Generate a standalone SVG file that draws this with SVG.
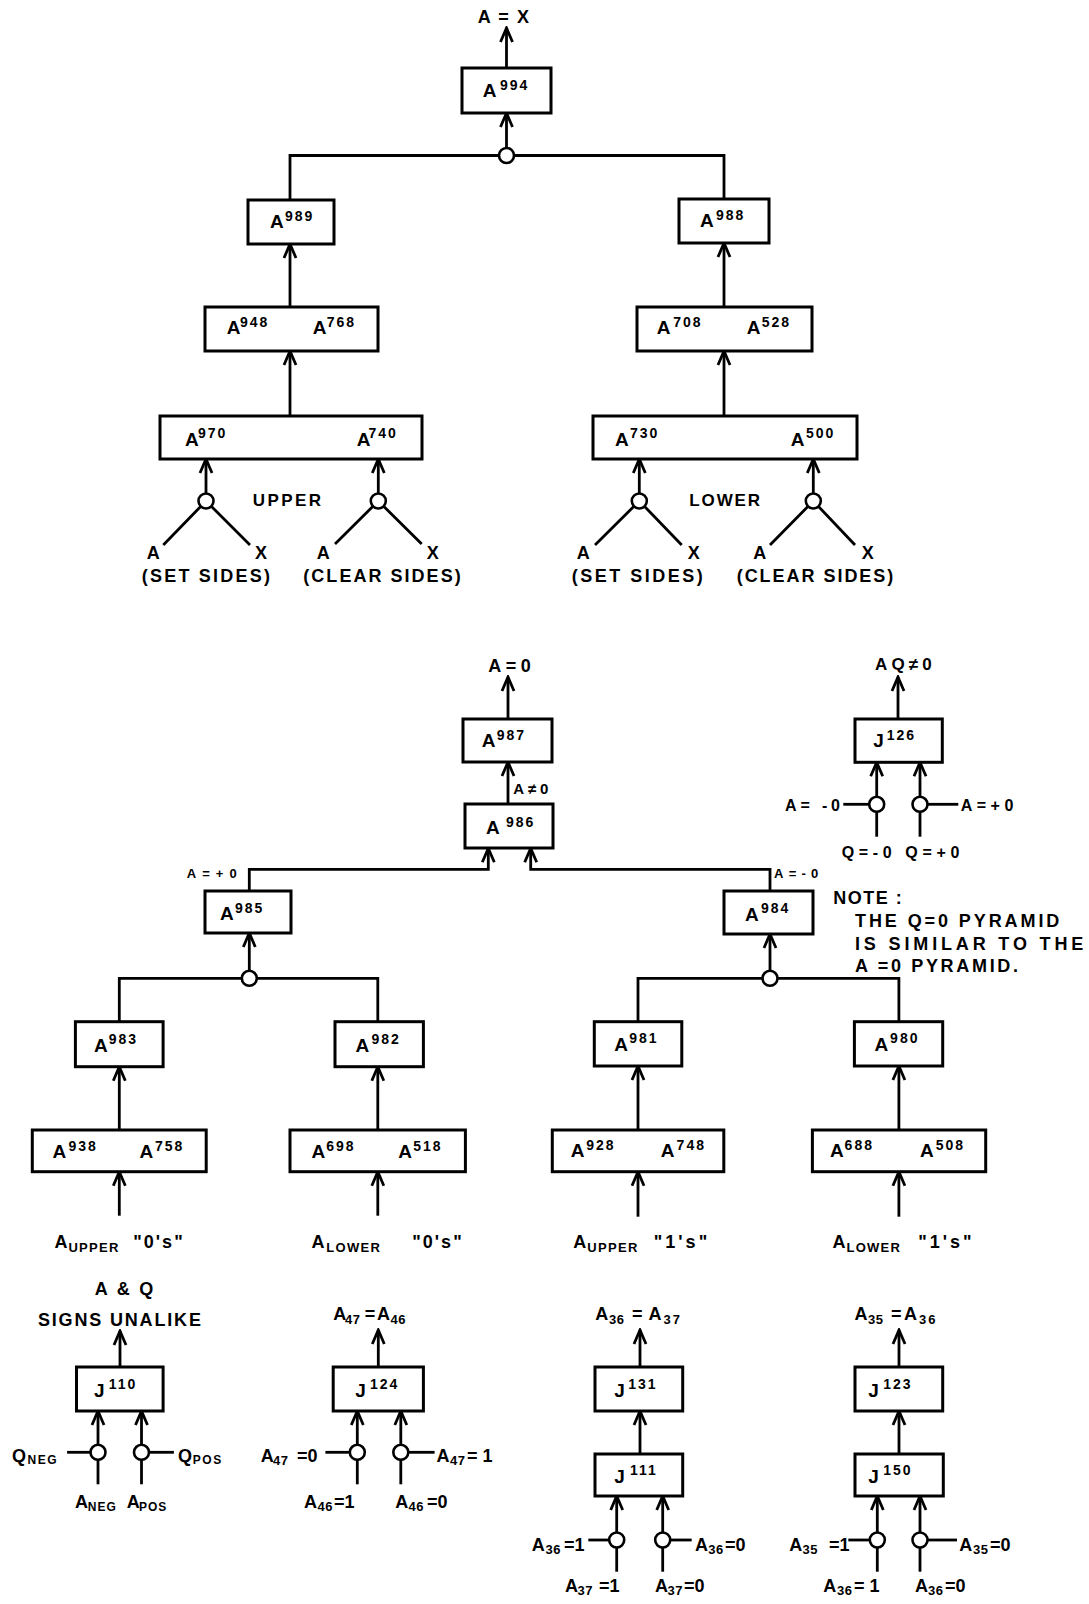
<svg xmlns="http://www.w3.org/2000/svg" width="1089" height="1604" viewBox="0 0 1089 1604">
<style>
.bx{fill:#fff;stroke:#000;stroke-width:3}
.ln{fill:none;stroke:#000;stroke-width:2.8}
.ar{fill:none;stroke:#000;stroke-width:2.8;marker-end:url(#ah)}
.jn{fill:#fff;stroke:#000;stroke-width:2.6}
text{font-family:'Liberation Sans',Arial,sans-serif;font-weight:bold;fill:#000}
.t{font-size:18px}
.bl{font-size:19px}
.sp{font-size:14px;letter-spacing:2px}
.sb{font-size:13px;letter-spacing:0.5px}
.sm{font-size:13px}
.md{font-size:16px}
</style>
<defs>
<marker id="ah" viewBox="-16 -8 18 16" markerWidth="18" markerHeight="16" refX="0" refY="0" orient="auto" markerUnits="userSpaceOnUse">
<path d="M-14,-6 L0,0 L-14,6" fill="none" stroke="#000" stroke-width="2.8"/>
</marker>
</defs>
<rect width="1089" height="1604" fill="#fff"/>

<g id="connectors">
<line class="ar" x1="506.5" y1="68" x2="506.5" y2="28"/>
<line class="ar" x1="506.5" y1="148" x2="506.5" y2="113"/>
<path class="ln" d="M290,200 V155.5 H724 V199"/>
<line class="ar" x1="290" y1="307" x2="290" y2="244"/>
<line class="ar" x1="724" y1="307" x2="724" y2="243"/>
<line class="ar" x1="290" y1="416" x2="290" y2="351"/>
<line class="ar" x1="724" y1="416" x2="724" y2="351"/>
<line class="ar" x1="206" y1="493.5" x2="206" y2="459"/>
<line class="ar" x1="378.3" y1="493.5" x2="378.3" y2="459"/>
<line class="ar" x1="639.3" y1="493.5" x2="639.3" y2="459"/>
<line class="ar" x1="813.3" y1="493.5" x2="813.3" y2="459"/>
<path class="ln" d="M163.3,545 L206,501 L250,545"/>
<path class="ln" d="M335,544 L378.3,501 L421.7,544"/>
<path class="ln" d="M595,545 L639.3,501 L681.7,545"/>
<path class="ln" d="M770,545 L813.3,501 L855,545"/>
<circle class="jn" cx="506.5" cy="155.5" r="7.5"/>
<circle class="jn" cx="206" cy="501" r="7.5"/>
<circle class="jn" cx="378.3" cy="501" r="7.5"/>
<circle class="jn" cx="639.3" cy="501" r="7.5"/>
<circle class="jn" cx="813.3" cy="501" r="7.5"/>

<line class="ar" x1="508" y1="719" x2="508" y2="677"/>
<line class="ar" x1="508" y1="804" x2="508" y2="762"/>
<path class="ar" d="M249.3,891 V869.3 H488.3 V848.3"/>
<path class="ar" d="M770,891 V869.3 H530.7 V848.3"/>
<line class="ar" x1="249.3" y1="970.8" x2="249.3" y2="933"/>
<line class="ar" x1="770" y1="970.8" x2="770" y2="934"/>
<path class="ln" d="M119.3,1021.7 V978.3 H377.8 V1021.7"/>
<path class="ln" d="M638,1021.7 V978.3 H898.9 V1021.7"/>
<circle class="jn" cx="249.3" cy="978.3" r="7.5"/>
<circle class="jn" cx="770" cy="978.3" r="7.5"/>
<line class="ar" x1="119.3" y1="1130" x2="119.3" y2="1066.7"/>
<line class="ar" x1="377.8" y1="1130" x2="377.8" y2="1066.7"/>
<line class="ar" x1="638" y1="1130" x2="638" y2="1066"/>
<line class="ar" x1="898.9" y1="1130" x2="898.9" y2="1066"/>
<line class="ar" x1="119.3" y1="1215.7" x2="119.3" y2="1171.7"/>
<line class="ar" x1="377.8" y1="1215.7" x2="377.8" y2="1171.7"/>
<line class="ar" x1="638" y1="1216.7" x2="638" y2="1171.7"/>
<line class="ar" x1="898.9" y1="1216.7" x2="898.9" y2="1171.7"/>

<line class="ar" x1="898" y1="719" x2="898" y2="677"/>
<line class="ar" x1="876.7" y1="796.8" x2="876.7" y2="762.3"/>
<line class="ar" x1="920" y1="796.8" x2="920" y2="762.3"/>
<line class="ln" x1="876.7" y1="804" x2="876.7" y2="836.7"/>
<line class="ln" x1="920" y1="804" x2="920" y2="836.7"/>
<line class="ln" x1="843.3" y1="804.3" x2="870" y2="804.3"/>
<line class="ln" x1="927" y1="804.3" x2="958.3" y2="804.3"/>
<circle class="jn" cx="876.7" cy="804.3" r="7.5"/>
<circle class="jn" cx="920" cy="804.3" r="7.5"/>

<line class="ar" x1="120" y1="1367" x2="120" y2="1331"/>
<line class="ar" x1="98" y1="1444.8" x2="98" y2="1411"/>
<line class="ar" x1="141.5" y1="1444.8" x2="141.5" y2="1411"/>
<line class="ln" x1="98" y1="1452" x2="98" y2="1484.3"/>
<line class="ln" x1="141.5" y1="1452" x2="141.5" y2="1484.3"/>
<line class="ln" x1="67.1" y1="1452.3" x2="91" y2="1452.3"/>
<line class="ln" x1="148.5" y1="1452.3" x2="173.9" y2="1452.3"/>
<circle class="jn" cx="98" cy="1452.3" r="7.5"/>
<circle class="jn" cx="141.5" cy="1452.3" r="7.5"/>

<line class="ar" x1="378.3" y1="1367" x2="378.3" y2="1330"/>
<line class="ar" x1="357.3" y1="1444.8" x2="357.3" y2="1411"/>
<line class="ar" x1="400.8" y1="1444.8" x2="400.8" y2="1411"/>
<line class="ln" x1="357.3" y1="1452" x2="357.3" y2="1484.3"/>
<line class="ln" x1="400.8" y1="1452" x2="400.8" y2="1484.3"/>
<line class="ln" x1="325.4" y1="1452.3" x2="350" y2="1452.3"/>
<line class="ln" x1="408" y1="1452.3" x2="434.6" y2="1452.3"/>
<circle class="jn" cx="357.3" cy="1452.3" r="7.5"/>
<circle class="jn" cx="400.8" cy="1452.3" r="7.5"/>

<line class="ar" x1="640" y1="1367" x2="640" y2="1330"/>
<line class="ar" x1="640" y1="1454" x2="640" y2="1411"/>
<line class="ar" x1="616.7" y1="1532.5" x2="616.7" y2="1496"/>
<line class="ar" x1="662.7" y1="1532.5" x2="662.7" y2="1496"/>
<line class="ln" x1="616.7" y1="1540" x2="616.7" y2="1571.7"/>
<line class="ln" x1="662.7" y1="1540" x2="662.7" y2="1571.7"/>
<line class="ln" x1="588.3" y1="1540" x2="609.5" y2="1540"/>
<line class="ln" x1="670" y1="1540" x2="691.7" y2="1540"/>
<circle class="jn" cx="616.7" cy="1540" r="7.5"/>
<circle class="jn" cx="662.7" cy="1540" r="7.5"/>

<line class="ar" x1="899" y1="1367" x2="899" y2="1330"/>
<line class="ar" x1="899" y1="1454" x2="899" y2="1411"/>
<line class="ar" x1="877.3" y1="1532.5" x2="877.3" y2="1496"/>
<line class="ar" x1="920" y1="1532.5" x2="920" y2="1496"/>
<line class="ln" x1="877.3" y1="1540" x2="877.3" y2="1571.7"/>
<line class="ln" x1="920" y1="1540" x2="920" y2="1571.7"/>
<line class="ln" x1="848.3" y1="1540" x2="870" y2="1540"/>
<line class="ln" x1="927" y1="1540" x2="957" y2="1540"/>
<circle class="jn" cx="877.3" cy="1540" r="7.5"/>
<circle class="jn" cx="920" cy="1540" r="7.5"/>
</g>

<g id="A994"><rect class="bx" x="462" y="68" width="89" height="45"/><text class="bl" x="482.7" y="97.3">A<tspan class="sp" x="500" dy="-7.5">994</tspan></text></g>
<g id="A989"><rect class="bx" x="248" y="200" width="86" height="44"/><text class="bl" x="270" y="228">A<tspan class="sp" x="285" dy="-7.5">989</tspan></text></g>
<g id="A988"><rect class="bx" x="679" y="199" width="90" height="44"/><text class="bl" x="700" y="227">A<tspan class="sp" x="716" dy="-7.5">988</tspan></text></g>
<g id="A948-A768"><rect class="bx" x="205" y="307" width="173" height="44"/>
<text class="bl" x="226.7" y="334">A<tspan class="sp" x="240" dy="-7.5">948</tspan></text>
<text class="bl" x="312.7" y="334">A<tspan class="sp" x="326.7" dy="-7.5">768</tspan></text></g>
<g id="A708-A528"><rect class="bx" x="637" y="307" width="175" height="44"/>
<text class="bl" x="656.7" y="334">A<tspan class="sp" x="673.3" dy="-7.5">708</tspan></text>
<text class="bl" x="746.7" y="334">A<tspan class="sp" x="761.7" dy="-7.5">528</tspan></text></g>
<g id="A970-A740"><rect class="bx" x="160" y="416" width="262" height="43"/>
<text class="bl" x="185" y="445.5">A<tspan class="sp" x="198" dy="-7.5">970</tspan></text>
<text class="bl" x="356.7" y="445.5">A<tspan class="sp" x="368.5" dy="-7.5">740</tspan></text></g>
<g id="A730-A500"><rect class="bx" x="593" y="416" width="264" height="43"/>
<text class="bl" x="615" y="445.5">A<tspan class="sp" x="630" dy="-7.5">730</tspan></text>
<text class="bl" x="790.7" y="445.5">A<tspan class="sp" x="806" dy="-7.5">500</tspan></text></g>

<g id="top-labels">
<text class="t" x="477.7" y="23.3" textLength="51.3" lengthAdjust="spacing">A = X</text>
<text class="t" x="252.7" y="505.7" textLength="68.3" lengthAdjust="spacing" style="font-size:17px">UPPER</text>
<text class="t" x="689.3" y="505.7" textLength="70.7" lengthAdjust="spacing" style="font-size:17px">LOWER</text>
<text class="t" x="146.7" y="559">A</text><text class="t" x="255" y="559">X</text>
<text class="t" x="141.7" y="581.7" textLength="128.3" lengthAdjust="spacing">(SET SIDES)</text>
<text class="t" x="316.7" y="559">A</text><text class="t" x="426.7" y="559">X</text>
<text class="t" x="303.3" y="581.7" textLength="157.4" lengthAdjust="spacing">(CLEAR SIDES)</text>
<text class="t" x="576.7" y="559">A</text><text class="t" x="687.7" y="559">X</text>
<text class="t" x="571.7" y="581.7" textLength="131" lengthAdjust="spacing">(SET SIDES)</text>
<text class="t" x="753.3" y="559">A</text><text class="t" x="861.7" y="559">X</text>
<text class="t" x="736.7" y="581.7" textLength="156.6" lengthAdjust="spacing">(CLEAR SIDES)</text>
</g>

<g id="A987"><rect class="bx" x="463" y="719" width="89" height="43"/><text class="bl" x="481.7" y="747.3">A<tspan class="sp" x="496.7" dy="-7.5">987</tspan></text></g>
<g id="A986"><rect class="bx" x="465" y="804" width="88" height="44"/><text class="bl" x="486" y="834">A<tspan class="sp" x="506" dy="-7.5">986</tspan></text></g>
<g id="A985"><rect class="bx" x="205" y="891" width="86" height="42"/><text class="bl" x="220" y="920">A<tspan class="sp" x="235" dy="-7.5">985</tspan></text></g>
<g id="A984"><rect class="bx" x="724" y="891" width="89" height="43"/><text class="bl" x="745" y="920.7">A<tspan class="sp" x="761" dy="-7.5">984</tspan></text></g>
<g id="A983"><rect class="bx" x="75.4" y="1021.7" width="87.7" height="45"/><text class="bl" x="94" y="1051.7">A<tspan class="sp" x="108.8" dy="-7.5">983</tspan></text></g>
<g id="A982"><rect class="bx" x="335" y="1021.7" width="88.4" height="45"/><text class="bl" x="355.4" y="1051.7">A<tspan class="sp" x="371.5" dy="-7.5">982</tspan></text></g>
<g id="A981"><rect class="bx" x="594.3" y="1021.7" width="87.5" height="44.3"/><text class="bl" x="614.2" y="1050.7">A<tspan class="sp" x="629.3" dy="-7.5">981</tspan></text></g>
<g id="A980"><rect class="bx" x="854.4" y="1021.7" width="88.3" height="44.3"/><text class="bl" x="874.4" y="1050.7">A<tspan class="sp" x="890.1" dy="-7.5">980</tspan></text></g>
<g id="A938-A758"><rect class="bx" x="32.3" y="1130" width="173.9" height="41.7"/>
<text class="bl" x="52.6" y="1158.3">A<tspan class="sp" x="68.4" dy="-7.5">938</tspan></text>
<text class="bl" x="139.6" y="1158.3">A<tspan class="sp" x="155" dy="-7.5">758</tspan></text></g>
<g id="A698-A518"><rect class="bx" x="290" y="1130" width="175.4" height="41.7"/>
<text class="bl" x="311.6" y="1158.3">A<tspan class="sp" x="326.3" dy="-7.5">698</tspan></text>
<text class="bl" x="398.2" y="1158.3">A<tspan class="sp" x="413.3" dy="-7.5">518</tspan></text></g>
<g id="A928-A748"><rect class="bx" x="552.3" y="1130" width="171.5" height="41.7"/>
<text class="bl" x="570.8" y="1157.3">A<tspan class="sp" x="586.2" dy="-7.5">928</tspan></text>
<text class="bl" x="660.8" y="1157.3">A<tspan class="sp" x="676.6" dy="-7.5">748</tspan></text></g>
<g id="A688-A508"><rect class="bx" x="812.4" y="1130" width="173.3" height="41.7"/>
<text class="bl" x="829.9" y="1157.3">A<tspan class="sp" x="844.6" dy="-7.5">688</tspan></text>
<text class="bl" x="919.9" y="1157.3">A<tspan class="sp" x="935.7" dy="-7.5">508</tspan></text></g>

<g id="zero-labels">
<text class="t" x="488.3" y="671.7" textLength="42.4" lengthAdjust="spacing">A=0</text>
<text class="t" x="513.3" y="794" textLength="35" lengthAdjust="spacing" style="font-size:15px">A≠0</text>
<text class="sm" x="186.7" y="878.3" textLength="50" lengthAdjust="spacing">A=+0</text>
<text class="sm" x="774" y="877.7" textLength="44.3" lengthAdjust="spacing">A=-0</text>
<text class="t"><tspan x="54.4" y="1248.3">A</tspan><tspan class="sb" x="68.4" y="1252" style="letter-spacing:1.3px">UPPER</tspan><tspan x="133.3" y="1248.3" style="letter-spacing:2px">"0's"</tspan></text>
<text class="t"><tspan x="311.6" y="1248.3">A</tspan><tspan class="sb" x="326.3" y="1252" style="letter-spacing:1.3px">LOWER</tspan><tspan x="412.3" y="1248.3" style="letter-spacing:2px">"0's"</tspan></text>
<text class="t"><tspan x="573.3" y="1247.7">A</tspan><tspan class="sb" x="587.3" y="1251.5" style="letter-spacing:1.3px">UPPER</tspan><tspan x="653.8" y="1247.7" style="letter-spacing:3px">"1's"</tspan></text>
<text class="t"><tspan x="832.4" y="1247.7">A</tspan><tspan class="sb" x="846.4" y="1251.5" style="letter-spacing:1.3px">LOWER</tspan><tspan x="918.2" y="1247.7" style="letter-spacing:3px">"1's"</tspan></text>
</g>

<g id="J126"><rect class="bx" x="855" y="719" width="87.3" height="43.3"/><text class="bl" x="873.3" y="747.3">J<tspan class="sp" x="886.7" dy="-7.5">126</tspan></text></g>
<g id="J126-labels">
<text class="t" x="875" y="670" textLength="56.7" lengthAdjust="spacing" style="font-size:17px">AQ≠0</text>
<text class="md" x="785" y="810.7" textLength="55" lengthAdjust="spacing">A= -0</text>
<text class="md" x="960.7" y="810.7" textLength="52.6" lengthAdjust="spacing">A=+0</text>
<text class="md" x="841.7" y="858.3" textLength="117.6" lengthAdjust="spacing">Q=-0 Q=+0</text>
</g>

<g id="note">
<text class="t" x="833.3" y="904" textLength="68.4" lengthAdjust="spacing">NOTE :</text>
<text class="t" x="855" y="927.3" textLength="204.3" lengthAdjust="spacing">THE Q=0 PYRAMID</text>
<text class="t" x="855" y="950" textLength="228.3" lengthAdjust="spacing">IS SIMILAR TO THE</text>
<text class="t" x="855" y="972" textLength="163" lengthAdjust="spacing">A =0  PYRAMID.</text>
</g>

<g id="J110"><rect class="bx" x="76.5" y="1367" width="86.6" height="44"/><text class="bl" x="94" y="1396.7">J<tspan class="sp" x="108.7" dy="-7.5">110</tspan></text></g>
<g id="J124"><rect class="bx" x="333.2" y="1367" width="90.2" height="44"/><text class="bl" x="355.3" y="1396.7">J<tspan class="sp" x="370" dy="-7.5">124</tspan></text></g>
<g id="J131"><rect class="bx" x="595" y="1367" width="87.7" height="44"/><text class="bl" x="614.3" y="1396.7">J<tspan class="sp" x="628.3" dy="-7.5">131</tspan></text></g>
<g id="J123"><rect class="bx" x="855" y="1367" width="87.7" height="44"/><text class="bl" x="868.3" y="1396.7">J<tspan class="sp" x="883.3" dy="-7.5">123</tspan></text></g>
<g id="J111"><rect class="bx" x="595" y="1454" width="87.7" height="42"/><text class="bl" x="614.3" y="1482.7">J<tspan class="sp" x="630" dy="-7.5">111</tspan></text></g>
<g id="J150"><rect class="bx" x="855" y="1454" width="88.3" height="42"/><text class="bl" x="868.3" y="1482.7">J<tspan class="sp" x="883.3" dy="-7.5">150</tspan></text></g>

<g id="J-labels">
<text class="t" x="94.7" y="1295" textLength="58.6" lengthAdjust="spacing">A &amp; Q</text>
<text class="t" x="37.9" y="1326" textLength="163" lengthAdjust="spacing">SIGNS UNALIKE</text>
<text class="t"><tspan x="333.2" y="1320">A</tspan><tspan class="sb" x="345" y="1324">47</tspan><tspan x="364.8" y="1320">=</tspan><tspan x="377" y="1320">A</tspan><tspan class="sb" x="390.5" y="1324">46</tspan></text>
<text class="t"><tspan x="595.3" y="1320">A</tspan><tspan class="sb" x="609" y="1324">36</tspan><tspan x="632" y="1320">=</tspan><tspan x="648.5" y="1320">A</tspan><tspan class="sb" x="663.5" y="1324" style="letter-spacing:2px">37</tspan></text>
<text class="t"><tspan x="854.4" y="1320">A</tspan><tspan class="sb" x="868" y="1324">35</tspan><tspan x="891" y="1320">=</tspan><tspan x="904.1" y="1320">A</tspan><tspan class="sb" x="919" y="1324" style="letter-spacing:2px">36</tspan></text>

<text class="t"><tspan x="12" y="1461.7">Q</tspan><tspan class="sb" x="27.5" y="1463.5" style="font-size:12px;letter-spacing:1.5px">NEG</tspan></text>
<text class="t"><tspan x="178" y="1461.7">Q</tspan><tspan class="sb" x="192.8" y="1463.5" style="font-size:12px;letter-spacing:1.5px">POS</tspan></text>
<text class="t"><tspan x="75.1" y="1508.3">A</tspan><tspan class="sb" x="87.8" y="1510.7" style="font-size:12px;letter-spacing:1px">NEG</tspan><tspan x="126.7" y="1508.3">A</tspan><tspan class="sb" x="139" y="1510.7" style="font-size:12px;letter-spacing:1px">POS</tspan></text>

<text class="t"><tspan x="260.7" y="1461.7">A</tspan><tspan class="sb" x="273" y="1464.5">47</tspan><tspan x="297" y="1461.7">=0</tspan></text>
<text class="t"><tspan x="436.6" y="1461.7">A</tspan><tspan class="sb" x="450" y="1464.5">47</tspan><tspan x="467" y="1461.7">= 1</tspan></text>
<text class="t"><tspan x="304" y="1508.3">A</tspan><tspan class="sb" x="317.5" y="1511">46</tspan><tspan x="334" y="1508.3">=1</tspan></text>
<text class="t"><tspan x="395.3" y="1508.3">A</tspan><tspan class="sb" x="408.5" y="1511">46</tspan><tspan x="427" y="1508.3">=0</tspan></text>

<text class="t"><tspan x="531.7" y="1551">A</tspan><tspan class="sb" x="545.5" y="1554">36</tspan><tspan x="564" y="1551">=1</tspan></text>
<text class="t"><tspan x="695" y="1551">A</tspan><tspan class="sb" x="708.3" y="1554">36</tspan><tspan x="725" y="1551">=0</tspan></text>
<text class="t"><tspan x="565" y="1591.7">A</tspan><tspan class="sb" x="577.5" y="1595">37</tspan><tspan x="599" y="1591.7">=1</tspan></text>
<text class="t"><tspan x="655" y="1591.7">A</tspan><tspan class="sb" x="667.5" y="1595">37</tspan><tspan x="684" y="1591.7">=0</tspan></text>

<text class="t"><tspan x="789.3" y="1551">A</tspan><tspan class="sb" x="802.5" y="1554">35</tspan><tspan x="829" y="1551">=1</tspan></text>
<text class="t"><tspan x="959.3" y="1551">A</tspan><tspan class="sb" x="973" y="1554">35</tspan><tspan x="990" y="1551">=0</tspan></text>
<text class="t"><tspan x="823.3" y="1591.7">A</tspan><tspan class="sb" x="837" y="1595">36</tspan><tspan x="854" y="1591.7">= 1</tspan></text>
<text class="t"><tspan x="915" y="1591.7">A</tspan><tspan class="sb" x="928" y="1595">36</tspan><tspan x="945" y="1591.7">=0</tspan></text>
</g>
</svg>
